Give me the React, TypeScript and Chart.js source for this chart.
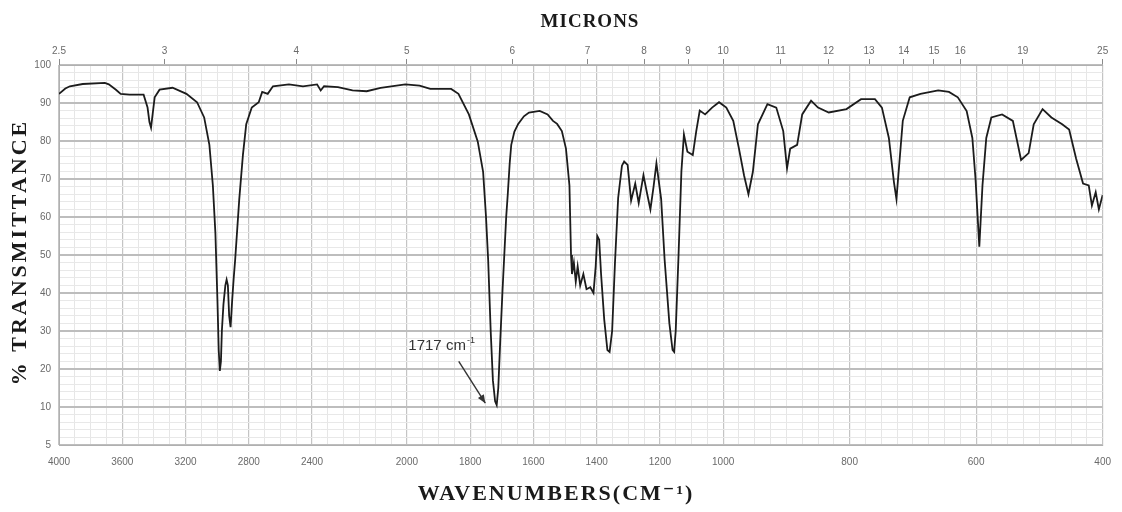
import React, { useEffect, useRef } from "react";
import { Chart, registerables } from "chart.js";

Chart.register(...registerables);

// ---------- axis labels ----------
const WAVENUMBER_TICKS = [4000, 3600, 3200, 2800, 2400, 2000, 1800, 1600, 1400, 1200, 1000, 800, 600, 400];
const MICRON_TICKS = ["2.5", "3", "4", "5", "6", "7", "8", "9", "10", "11", "12", "13", "14", "15", "16", "19", "25"];
const TRANSMITTANCE_TICKS = [0, 10, 20, 30, 40, 50, 60, 70, 80, 90, 100];
const TRANSMITTANCE_LABELS = ["5", "10", "20", "30", "40", "50", "60", "70", "80", "90", "100"];

const TITLE_TOP = "MICRONS";
const TITLE_BOTTOM = "WAVENUMBERS(CM\u207B\u00B9)";
const TITLE_LEFT = "% TRANSMITTANCE";

// ---------- spectrum (cm-1, %T) ----------
const SPEC_WAVENUMBER = [
  4000, 3960, 3931, 3850, 3710, 3685, 3640, 3610, 3553, 3465, 3440, 3428, 3418, 3408, 3395, 3364, 3282, 3194, 3127, 3082,
  3049, 3027, 3011, 2998, 2990, 2983, 2976, 2970, 2960, 2948, 2940, 2932, 2924, 2915, 2905, 2895, 2886, 2860, 2837, 2816,
  2781, 2737, 2715, 2680, 2647, 2546, 2457, 2368, 2345, 2324, 2236, 2172, 2127, 2083, 2005, 1960, 1926, 1860, 1837, 1804,
  1776, 1759, 1750, 1743, 1735, 1728, 1721, 1716, 1711, 1705, 1698, 1692, 1686, 1681, 1675, 1670, 1660, 1648, 1630, 1614,
  1580, 1555, 1538, 1525, 1510, 1497, 1486, 1481, 1478, 1472, 1466, 1460, 1452, 1442, 1432, 1420, 1410, 1403, 1398, 1392,
  1386, 1376, 1366, 1359, 1351, 1342, 1332, 1320, 1313, 1302, 1291, 1278, 1267, 1252, 1240, 1230, 1220, 1211, 1196, 1185,
  1170, 1160, 1155, 1150, 1141, 1132, 1124, 1113, 1096, 1085, 1074, 1057, 1035, 1013, 995, 984, 975, 967, 960, 953,
  945, 930, 916, 905, 899, 894, 883, 875, 861, 850, 833, 805, 782, 760, 749, 738, 730, 726, 723, 716,
  705, 688, 660, 643, 629, 615, 606, 601, 595, 590, 584, 576, 559, 542, 534, 529, 517, 509, 495, 481,
  464, 453, 442, 431, 422, 417, 411, 406, 400,
];
const SPEC_TRANSMITTANCE = [
  92.4, 93.8, 94.4, 95, 95.3, 94.9, 93.5, 92.4, 92.2, 92.2, 88.8, 85, 83.5, 87, 91.5, 93.5, 94, 92.4, 90.2, 86.2,
  79, 68.3, 55.8, 38, 25, 19.5, 22, 30, 37, 42, 43.5, 42, 34, 31, 38, 44, 48.7, 64.7, 76.3, 84.4,
  88.8, 90.2, 92.9, 92.4, 94.4, 94.9, 94.4, 94.9, 93.3, 94.4, 94.2, 93.3, 93.1, 94, 94.9, 94.6, 93.7, 93.7, 92.4, 87,
  79.9, 71.9, 60.3, 48.7, 30, 17, 11.5, 10.5, 15, 27, 40, 50, 60, 66, 74, 79, 82.5, 84.5, 86.5, 87.5,
  87.9, 87, 85.3, 84.5, 82.6, 78, 68.3, 50, 45, 48, 43, 47, 42, 45, 41, 41.5, 40, 47, 55, 54,
  45, 33, 25, 24.5, 30, 48, 65, 73.5, 74.6, 73.7, 64.3, 68.8, 63.7, 71, 66, 62, 68, 74.1, 64.7, 48.7,
  32, 25, 24.5, 30, 50, 72, 81.7, 77.2, 76.3, 82.6, 88, 87, 88.8, 90.2, 88.8, 85.3, 78, 71, 66, 71.9,
  84.4, 89.7, 88.8, 82.6, 72.8, 78, 79, 87, 90.6, 88.8, 87.5, 88.4, 91, 91, 88.8, 80.8, 69.2, 64.7, 71, 85.3,
  91.5, 92.4, 93.3, 92.9, 91.5, 87.9, 80.8, 70, 52.2, 68.3, 80.8, 86.2, 87, 85.3, 79, 75, 76.8, 84.4, 88.4, 86.2,
  84.4, 83, 75.4, 68.8, 68.3, 63, 66.5, 62, 65.8,
];

// ---------- annotation ----------
const PEAK_LABEL = "1717 cm";
const PEAK_LABEL_SUP = "-1";
const PEAK_LABEL_AT = [1785, 26]; // right end of text (cm-1, %T)
const PEAK_ARROW_FROM = [1836, 22];
const PEAK_ARROW_TO = [1752, 11];

// ---------- chart paper: 4000-2200 at 1x, 2200-1000 at 2x, 1000-400 at 4x ----------
const PAPER_BREAKS = [4000, 2200, 1000, 400];
const PAPER_STRETCH = [1, 2, 4];
const PAPER_MINOR_STEP = [100, 50, 25];

function paperPos(wn: number): number {
  let pos = 0;
  for (let i = 0; i < PAPER_STRETCH.length; i++) {
    const hi = PAPER_BREAKS[i];
    const lo = PAPER_BREAKS[i + 1];
    if (wn >= lo) return pos + (hi - Math.min(wn, hi)) * PAPER_STRETCH[i];
    pos += (hi - lo) * PAPER_STRETCH[i];
  }
  return pos + (PAPER_BREAKS[PAPER_BREAKS.length - 1] - wn) * PAPER_STRETCH[PAPER_STRETCH.length - 1];
}

const PAPER_MAX = paperPos(400);

function bottomTicks() {
  const out: any[] = [];
  for (let i = 0; i < PAPER_STRETCH.length; i++) {
    const hi = PAPER_BREAKS[i];
    const lo = PAPER_BREAKS[i + 1];
    for (let w = hi; w > lo - 0.001; w -= PAPER_MINOR_STEP[i]) {
      if (i > 0 && w === hi) continue;
      const lbl = WAVENUMBER_TICKS.includes(w) ? String(w) : "";
      out.push({ value: paperPos(w), lbl, major: lbl !== "" });
    }
  }
  return out;
}

function topTicks() {
  return MICRON_TICKS.map((m) => ({ value: paperPos(10000 / parseFloat(m)), lbl: m }));
}

function leftTicks() {
  const out: any[] = [];
  for (let v = 0; v <= 100; v += 2) {
    const idx = TRANSMITTANCE_TICKS.indexOf(v);
    out.push({ value: v, lbl: idx >= 0 ? TRANSMITTANCE_LABELS[idx] : "", major: idx >= 0 });
  }
  return out;
}

const SERIF = '"Liberation Serif", "DejaVu Serif", serif';
const SANS = '"Liberation Sans", Arial, sans-serif';

const decorPlugin = {
  id: "irDecor",
  afterDraw(chart: any) {
    const ctx = chart.ctx as CanvasRenderingContext2D;
    const xs = chart.scales.x;
    const ys = chart.scales.y;

    ctx.save();
    ctx.fillStyle = "#1a1a1a";
    ctx.textBaseline = "middle";
    ctx.textAlign = "center";

    // top title
    ctx.font = `bold 19px ${SERIF}`;
    (ctx as any).letterSpacing = "1px";
    ctx.fillText(TITLE_TOP, 590, 22);

    // bottom title
    ctx.font = `bold 22px ${SERIF}`;
    (ctx as any).letterSpacing = "2px";
    ctx.fillText(TITLE_BOTTOM, 556, 494);

    // left title
    ctx.save();
    ctx.translate(20, 252);
    ctx.rotate(-Math.PI / 2);
    ctx.font = `bold 22px ${SERIF}`;
    (ctx as any).letterSpacing = "3px";
    ctx.fillText(TITLE_LEFT, 0, 0);
    ctx.restore();
    (ctx as any).letterSpacing = "0px";

    // annotation text
    const tx = xs.getPixelForValue(paperPos(PEAK_LABEL_AT[0]));
    const ty = ys.getPixelForValue(PEAK_LABEL_AT[1]);
    ctx.font = `9px ${SANS}`;
    const supW = ctx.measureText(PEAK_LABEL_SUP).width;
    ctx.textAlign = "left";
    ctx.fillStyle = "#333";
    ctx.fillText(PEAK_LABEL_SUP, tx - supW, ty - 6);
    ctx.font = `15px ${SANS}`;
    ctx.textAlign = "right";
    ctx.fillText(PEAK_LABEL, tx - supW - 1, ty);

    // arrow
    const x1 = xs.getPixelForValue(paperPos(PEAK_ARROW_FROM[0]));
    const y1 = ys.getPixelForValue(PEAK_ARROW_FROM[1]);
    const x2 = xs.getPixelForValue(paperPos(PEAK_ARROW_TO[0]));
    const y2 = ys.getPixelForValue(PEAK_ARROW_TO[1]);
    ctx.strokeStyle = "#333";
    ctx.lineWidth = 1.4;
    ctx.beginPath();
    ctx.moveTo(x1, y1);
    ctx.lineTo(x2, y2);
    ctx.stroke();
    const ang = Math.atan2(y2 - y1, x2 - x1);
    const hl = 9;
    ctx.beginPath();
    ctx.moveTo(x2, y2);
    ctx.lineTo(x2 - hl * Math.cos(ang - 0.4), y2 - hl * Math.sin(ang - 0.4));
    ctx.lineTo(x2 - hl * Math.cos(ang + 0.4), y2 - hl * Math.sin(ang + 0.4));
    ctx.closePath();
    ctx.fillStyle = "#333";
    ctx.fill();
    ctx.restore();
  },
};

export default function App() {
  const canvasRef = useRef<HTMLCanvasElement | null>(null);

  useEffect(() => {
    document.body.style.margin = "0";
    const canvas = canvasRef.current;
    if (!canvas) return;

    const points = SPEC_WAVENUMBER.map((w, i) => ({ x: paperPos(w), y: SPEC_TRANSMITTANCE[i] }));

    const chart = new Chart(canvas, {
      type: "line",
      data: {
        datasets: [
          {
            data: points,
            borderColor: "#1c1c1c",
            borderWidth: 1.8,
            pointRadius: 0,
            tension: 0,
            fill: false,
          },
        ],
      },
      options: {
        responsive: false,
        animation: false,
        devicePixelRatio: 1,
        layout: { padding: { left: 0, right: 13, top: 0, bottom: 0 } },
        plugins: {
          legend: { display: false },
          tooltip: { enabled: false },
          title: { display: false },
        },
        scales: {
          x: {
            type: "linear",
            position: "bottom",
            min: 0,
            max: PAPER_MAX,
            afterBuildTicks: (scale: any) => {
              scale.ticks = bottomTicks();
            },
            afterFit: (scale: any) => {
              scale.height = 67;
            },
            ticks: {
              autoSkip: false,
              maxRotation: 0,
              minRotation: 0,
              padding: 11,
              color: "#6a6a6a",
              font: { size: 10, family: SANS },
              callback: (_v: any, i: number, ticks: any[]) => ticks[i].lbl,
            },
            grid: {
              drawTicks: false,
              color: (c: any) => (c.tick && c.tick.major ? "#c4c4c4" : "#e6e6e6"),
              lineWidth: (c: any) => (c.tick && c.tick.major ? 1.2 : 1),
            },
            border: { display: true, color: "#b0b0b0" },
          },
          x2: {
            type: "linear",
            position: "top",
            min: 0,
            max: PAPER_MAX,
            afterBuildTicks: (scale: any) => {
              scale.ticks = topTicks();
            },
            afterFit: (scale: any) => {
              scale.height = 65;
            },
            ticks: {
              autoSkip: false,
              maxRotation: 0,
              minRotation: 0,
              padding: 2,
              color: "#6a6a6a",
              font: { size: 10, family: SANS },
              callback: (_v: any, i: number, ticks: any[]) => ticks[i].lbl,
            },
            grid: {
              drawOnChartArea: false,
              drawTicks: true,
              tickLength: 6,
              tickColor: "#8a8a8a",
            },
            border: { display: true, color: "#b0b0b0" },
          },
          y: {
            type: "linear",
            min: 0,
            max: 100,
            afterBuildTicks: (scale: any) => {
              scale.ticks = leftTicks();
            },
            afterFit: (scale: any) => {
              scale.width = 59;
            },
            ticks: {
              autoSkip: false,
              padding: 8,
              color: "#6a6a6a",
              font: { size: 10, family: SANS },
              callback: (_v: any, i: number, ticks: any[]) => ticks[i].lbl,
            },
            grid: {
              drawTicks: false,
              color: (c: any) => (c.tick && c.tick.major ? "#bdbdbd" : "#e8e8e8"),
              lineWidth: (c: any) => (c.tick && c.tick.major ? 2 : 1),
            },
            border: { display: true, color: "#b0b0b0" },
          },
        },
      },
      plugins: [decorPlugin],
    });

    return () => chart.destroy();
  }, []);

  return (
    <div style={{ width: 1122, height: 512, background: "#ffffff" }}>
      <canvas ref={canvasRef} width={1122} height={512} style={{ display: "block" }} />
    </div>
  );
}
